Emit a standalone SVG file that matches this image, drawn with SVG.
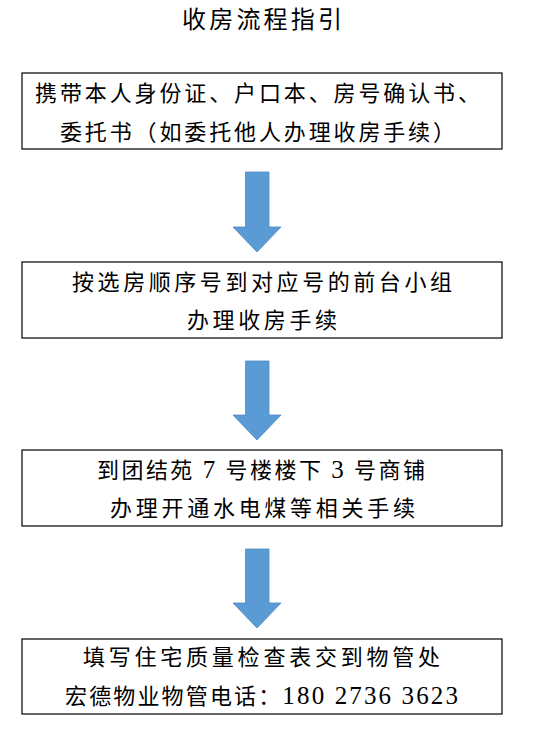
<svg xmlns="http://www.w3.org/2000/svg" width="543" height="747" viewBox="0 0 543 747">
<style>
.box{fill:#fff;stroke:#000;stroke-width:1.2}
.t{font-family:"Liberation Serif","Noto Sans CJK SC",serif;font-size:22px;fill:#000}
.title{font-size:24px}
.num{font-size:25px}
.arr{fill:#5B9BD5;stroke:#4F8AC4;stroke-width:0.8}
</style>
<rect width="543" height="747" fill="#fff"/>
<text class="t title" x="182" y="28" textLength="160" lengthAdjust="spacing">收房流程指引</text>
<g id="connectors">
<polygon class="arr" points="245.5,172 269,172 269,227 281,227 257,252 233,227 245.5,227"/>
<polygon class="arr" points="245.5,361 269,361 269,415 281,415 257,440 233,415 245.5,415"/>
<polygon class="arr" points="245.5,549 269,549 269,603 281,603 257,628 233,603 245.5,603"/>
</g>
<g id="step1">
<rect class="box" x="22" y="73" width="480" height="76"/>
<text class="t" x="35" y="101" textLength="445" lengthAdjust="spacing">携带本人身份证、户口本、房号确认书、</text>
<text class="t" x="60" y="140" textLength="395" lengthAdjust="spacing">委托书（如委托他人办理收房手续）</text>
</g>
<g id="step2">
<rect class="box" x="22" y="262" width="480" height="76"/>
<text class="t" x="72" y="290" textLength="380" lengthAdjust="spacing">按选房顺序号到对应号的前台小组</text>
<text class="t" x="187" y="328" textLength="150" lengthAdjust="spacing">办理收房手续</text>
</g>
<g id="step3">
<rect class="box" x="22" y="450" width="480" height="76"/>
<text class="t" x="97" y="478" textLength="328" lengthAdjust="spacing">到团结苑 <tspan class="num">7</tspan> 号楼楼下 <tspan class="num">3</tspan> 号商铺</text>
<text class="t" x="110" y="516" textLength="305" lengthAdjust="spacing">办理开通水电煤等相关手续</text>
</g>
<g id="step4">
<rect class="box" x="22" y="639" width="480" height="75"/>
<text class="t" x="83" y="665" textLength="357" lengthAdjust="spacing">填写住宅质量检查表交到物管处</text>
<text class="t" x="65" y="704" textLength="393" lengthAdjust="spacing">宏德物业物管电话：<tspan class="num">180 2736 3623</tspan></text>
</g>
</svg>
